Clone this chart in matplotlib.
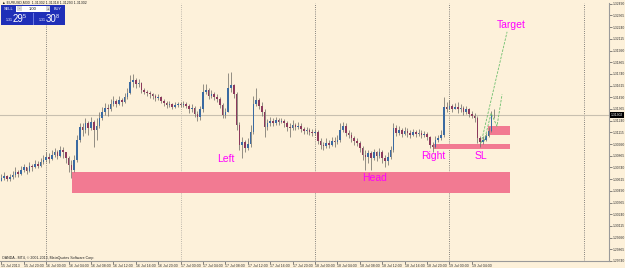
import matplotlib
matplotlib.use("Agg")
import matplotlib.pyplot as plt
from matplotlib.patches import Rectangle

plt.rcParams["font.family"] = ["Liberation Sans", "DejaVu Sans"]

# ── colours ──────────────────────────────────────────────────────────────────
BG = "#FDF1DA"
UP = "#3A6AA2"
DOWN = "#8C3A5C"
WICK = "#76736C"
ZONE = "#F27A92"
MAGENTA = "#FF00FF"
GREEN = "#6DBE6D"
PANEL = "#1F2FB8"

# ── EURUSD M30 bars (bar 0 = 15 Jul 2013 16:00) ──────────────────────────────
first_open = 1.3060
closes = [
    1.3063, 1.3065, 1.3062, 1.3064, 1.3066, 1.3069, 1.3067, 1.3071, 1.3074, 1.3070,
    1.3076, 1.3074, 1.3078, 1.3076, 1.3080, 1.3082, 1.3085, 1.3083, 1.3087, 1.3091,
    1.3086, 1.3093, 1.3090, 1.3084, 1.3077, 1.3071, 1.3082, 1.3103, 1.3117, 1.3114,
    1.3121, 1.3116, 1.3123, 1.3114, 1.3118, 1.3127, 1.3133, 1.3138, 1.3136, 1.3142,
    1.3145, 1.3142, 1.3146, 1.3144, 1.3149, 1.3154, 1.3165, 1.3168, 1.3163, 1.3164,
    1.3157, 1.3155, 1.3154, 1.3152, 1.3150, 1.3148, 1.3149, 1.3145, 1.3143, 1.3141,
    1.3142, 1.3139, 1.3141, 1.3142, 1.3141, 1.3142, 1.3140, 1.3136, 1.3138, 1.3131,
    1.3128, 1.3136, 1.3155, 1.3157, 1.3150, 1.3153, 1.3149, 1.3147, 1.3141, 1.3130,
    1.3133, 1.3159, 1.3162, 1.3152, 1.3119, 1.3098, 1.3101, 1.3095, 1.3099, 1.3112,
    1.3142, 1.3146, 1.3140, 1.3133, 1.3117, 1.3121, 1.3124, 1.3122, 1.3125, 1.3123,
    1.3124, 1.3121, 1.3117, 1.3116, 1.3119, 1.3117, 1.3118, 1.3115, 1.3113, 1.3114,
    1.3112, 1.3111, 1.3112, 1.3102, 1.3098, 1.3097, 1.3100, 1.3098, 1.3102, 1.3101,
    1.3103, 1.3114, 1.3118, 1.3111, 1.3109, 1.3106, 1.3102, 1.3100, 1.3095, 1.3087,
    1.3085, 1.3089, 1.3084, 1.3090, 1.3086, 1.3091, 1.3084, 1.3081, 1.3085, 1.3093,
    1.3116, 1.3111, 1.3114, 1.3110, 1.3113, 1.3111, 1.3109, 1.3112, 1.3110, 1.3111,
    1.3109, 1.3110, 1.3107, 1.3098, 1.3096, 1.3103, 1.3105, 1.3109, 1.3139, 1.3137,
    1.3140, 1.3137, 1.3139, 1.3136, 1.3138, 1.3133, 1.3136, 1.3131, 1.3129, 1.3127,
    1.3106, 1.3101, 1.3103, 1.3108, 1.3113, 1.3130, 1.3130,
]
highs = [
    1.3067, 1.3069, 1.3066, 1.3067, 1.3070, 1.3074, 1.3071, 1.3076, 1.3078, 1.3075,
    1.3080, 1.3078, 1.3082, 1.3081, 1.3084, 1.3087, 1.3090, 1.3089, 1.3093, 1.3095,
    1.3093, 1.3097, 1.3096, 1.3091, 1.3086, 1.3082, 1.3087, 1.3109, 1.3122, 1.3121,
    1.3127, 1.3124, 1.3128, 1.3125, 1.3127, 1.3133, 1.3139, 1.3143, 1.3142, 1.3147,
    1.3150, 1.3147, 1.3150, 1.3148, 1.3154, 1.3159, 1.3173, 1.3174, 1.3170, 1.3169,
    1.3165, 1.3159, 1.3157, 1.3156, 1.3154, 1.3153, 1.3153, 1.3150, 1.3147, 1.3145,
    1.3145, 1.3143, 1.3144, 1.3144, 1.3144, 1.3145, 1.3144, 1.3142, 1.3142, 1.3140,
    1.3134, 1.3140, 1.3163, 1.3163, 1.3159, 1.3157, 1.3155, 1.3153, 1.3149, 1.3143,
    1.3138, 1.3175, 1.3176, 1.3163, 1.3155, 1.3123, 1.3107, 1.3103, 1.3105, 1.3119,
    1.3150, 1.3159, 1.3148, 1.3144, 1.3136, 1.3126, 1.3128, 1.3127, 1.3128, 1.3127,
    1.3127, 1.3126, 1.3124, 1.3121, 1.3125, 1.3122, 1.3123, 1.3121, 1.3117, 1.3117,
    1.3116, 1.3115, 1.3115, 1.3114, 1.3106, 1.3101, 1.3105, 1.3103, 1.3107, 1.3107,
    1.3109, 1.3121, 1.3123, 1.3121, 1.3114, 1.3112, 1.3108, 1.3106, 1.3102, 1.3097,
    1.3093, 1.3093, 1.3092, 1.3094, 1.3092, 1.3095, 1.3093, 1.3087, 1.3091, 1.3097,
    1.3121, 1.3119, 1.3118, 1.3116, 1.3117, 1.3116, 1.3114, 1.3115, 1.3114, 1.3115,
    1.3114, 1.3113, 1.3112, 1.3108, 1.3101, 1.3108, 1.3109, 1.3114, 1.3149, 1.3144,
    1.3146, 1.3142, 1.3143, 1.3144, 1.3142, 1.3140, 1.3140, 1.3138, 1.3134, 1.3132,
    1.3129, 1.3108, 1.3108, 1.3111, 1.3117, 1.3134, 1.3136,
]
lows = [
    1.3060, 1.3061, 1.3059, 1.3060, 1.3062, 1.3064, 1.3064, 1.3066, 1.3069, 1.3067,
    1.3069, 1.3070, 1.3073, 1.3073, 1.3075, 1.3078, 1.3080, 1.3079, 1.3082, 1.3085,
    1.3083, 1.3085, 1.3084, 1.3079, 1.3069, 1.3063, 1.3069, 1.3080, 1.3101, 1.3108,
    1.3111, 1.3109, 1.3114, 1.3096, 1.3103, 1.3116, 1.3125, 1.3130, 1.3129, 1.3134,
    1.3140, 1.3139, 1.3141, 1.3140, 1.3143, 1.3147, 1.3152, 1.3160, 1.3159, 1.3160,
    1.3154, 1.3152, 1.3150, 1.3148, 1.3147, 1.3145, 1.3146, 1.3143, 1.3140, 1.3138,
    1.3139, 1.3137, 1.3138, 1.3139, 1.3139, 1.3139, 1.3138, 1.3132, 1.3133, 1.3128,
    1.3124, 1.3125, 1.3133, 1.3152, 1.3147, 1.3148, 1.3146, 1.3144, 1.3138, 1.3127,
    1.3127, 1.3133, 1.3155, 1.3148, 1.3114, 1.3093, 1.3084, 1.3090, 1.3093, 1.3096,
    1.3110, 1.3140, 1.3137, 1.3129, 1.3107, 1.3114, 1.3118, 1.3118, 1.3119, 1.3119,
    1.3121, 1.3117, 1.3113, 1.3107, 1.3114, 1.3114, 1.3115, 1.3112, 1.3110, 1.3110,
    1.3109, 1.3108, 1.3109, 1.3099, 1.3094, 1.3093, 1.3095, 1.3095, 1.3097, 1.3096,
    1.3099, 1.3101, 1.3112, 1.3108, 1.3106, 1.3101, 1.3098, 1.3097, 1.3091, 1.3082,
    1.3071, 1.3079, 1.3071, 1.3082, 1.3081, 1.3084, 1.3079, 1.3074, 1.3077, 1.3083,
    1.3091, 1.3108, 1.3109, 1.3107, 1.3109, 1.3107, 1.3106, 1.3108, 1.3107, 1.3108,
    1.3106, 1.3107, 1.3103, 1.3095, 1.3091, 1.3095, 1.3101, 1.3103, 1.3107, 1.3133,
    1.3136, 1.3133, 1.3136, 1.3132, 1.3133, 1.3130, 1.3131, 1.3128, 1.3127, 1.3123,
    1.3100, 1.3096, 1.3099, 1.3102, 1.3107, 1.3112, 1.3127,
]
current_price = 1.31302

# ── drawn objects ────────────────────────────────────────────────────────────
# zones: (bar start, bar end, price bottom, price top)
zones = [
    (25.2, 181.6, 1.3047, 1.3069),   # neckline / head zone
    (154.1, 181.6, 1.3094, 1.3099),  # SL zone
    (173.8, 181.6, 1.3109, 1.3118),  # entry zone
]
target_line_x = [171.3, 180.6]
target_line_y = [1.3100, 1.3219]
path_line_x = [172.4, 174.9, 177.0, 178.8]
path_line_y = [1.3102, 1.3132, 1.3118, 1.3152]
labels = [("Target", 182.2, 1.3226), ("Left", 80.2, 1.3083),
          ("Head", 133.4, 1.3063), ("Right", 154.1, 1.3086),
          ("SL", 171.1, 1.3086)]

price_ticks = [1.32490 - 0.00125 * k for k in range(23)]
time_ticks = list(range(0, 169, 8))
time_labels = [
    "15 Jul 2013", "15 Jul 20:00", "16 Jul 00:00", "16 Jul 04:00", "16 Jul 08:00",
    "16 Jul 12:00", "16 Jul 16:00", "16 Jul 20:00", "17 Jul 00:00", "17 Jul 04:00",
    "17 Jul 08:00", "17 Jul 12:00", "17 Jul 16:00", "17 Jul 20:00", "18 Jul 00:00",
    "18 Jul 04:00", "18 Jul 08:00", "18 Jul 12:00", "18 Jul 16:00", "18 Jul 20:00",
    "19 Jul 00:00", "19 Jul 04:00",
]
day_breaks = [16, 64, 112, 160, 208]

W, H = 625, 268


def fx(x):
    return x / W


def fy(y):
    return 1 - y / H


fig = plt.figure(figsize=(W / 100, H / 100), dpi=100, facecolor=BG)
ax = fig.add_axes([0, fy(261), fx(609), (261 - 3) / H])
ax.set_facecolor(BG)
ax.set_xlim(-0.5, 217.0)
ax.set_ylim(1.29743, 1.32498)

# separators + current price line
for k, b in enumerate(day_breaks):
    ax.axvline(b, color="#A8A49C" if k == 1 else "#5E5E5E", lw=0.6,
               ls=(0, (1, 1.6)), zorder=1)
ax.axhline(current_price, color="#C8C0B0", lw=0.8, zorder=1)

# zones
for x0, x1, y0, y1 in zones:
    ax.add_patch(Rectangle((x0, y0), x1 - x0, y1 - y0, facecolor=ZONE,
                           edgecolor="none", zorder=2))

# candles
opens = [first_open] + closes[:-1]
for i, (o, c, h, l) in enumerate(zip(opens, closes, highs, lows)):
    h = max(h, o, c)
    l = min(l, o, c)
    ax.vlines(i, l, h, color=WICK, lw=0.55, zorder=3)
    body = abs(c - o) if abs(c - o) > 0.00002 else 0.00002
    ax.bar(i, body, bottom=min(o, c), width=0.62,
           color=UP if c >= o else DOWN, zorder=4, linewidth=0)

# trade lines
ax.plot(target_line_x, target_line_y, color=GREEN, lw=0.6, ls=(0, (3, 1.5)), zorder=5)
ax.plot(path_line_x, path_line_y, color=GREEN, lw=0.6, ls=(0, (3, 1.5)), zorder=5)

for txt, bx, by in labels:
    ax.text(bx, by, txt, color=MAGENTA, fontsize=7.5, ha="center", va="center",
            zorder=6)

# axes
for s in ("top", "left"):
    ax.spines[s].set_visible(False)
for s in ("right", "bottom"):
    ax.spines[s].set_color("#9A9A9A")
    ax.spines[s].set_linewidth(0.8)

ax.yaxis.tick_right()
ax.set_yticks(price_ticks)
ax.set_yticklabels([f"{v:.5f}" for v in price_ticks])
ax.tick_params(axis="y", length=2, width=0.5, color="#555555", pad=1,
               labelsize=2.4, labelcolor="#333333")
ax.set_xticks(time_ticks)
ax.set_xticklabels(time_labels)
ax.tick_params(axis="x", length=2, width=0.5, color="#555555", pad=0.5,
               labelsize=2.6, labelcolor="#333333")
for lbl in ax.get_xticklabels():
    lbl.set_ha("left")

# current price tag on the price scale
ax.text(1.003, current_price, f"{current_price:.5f}", transform=ax.get_yaxis_transform(),
        fontsize=2.4, color="white", va="center", ha="left",
        bbox=dict(boxstyle="square,pad=0.25", facecolor="black", edgecolor="none"))

# window caption and one-click panel
fig.text(fx(2), fy(3), "\u25b2 EURUSD,M30  1.31302 1.31318 1.31293 1.31302",
         fontsize=2.6, color="#222222", va="center")


def box(x0, y0, x1, y1, color, ec="none"):
    fig.add_artist(Rectangle((fx(x0), fy(y1)), fx(x1) - fx(x0), fy(y0) - fy(y1),
                             transform=fig.transFigure, facecolor=color,
                             edgecolor=ec, linewidth=0.4))


box(1, 5, 65, 24.5, PANEL)
box(16, 5.5, 50, 12, "white")
box(17, 6.2, 21.5, 11.3, "#D6D6D6")
box(45.5, 6.2, 49.5, 11.3, "#D6D6D6")
box(33, 12.8, 33.6, 24.5, "#6A78E0")
fig.text(fx(8.5), fy(9), "SELL", fontsize=2.8, color="white", ha="center", va="center")
fig.text(fx(58), fy(9), "BUY", fontsize=2.8, color="white", ha="center", va="center")
fig.text(fx(19.2), fy(8.8), "-", fontsize=3, color="#333333", ha="center", va="center")
fig.text(fx(47.5), fy(8.8), "+", fontsize=3, color="#333333", ha="center", va="center")
fig.text(fx(33), fy(9), "1.00", fontsize=3, color="#111111", ha="center", va="center")
for x0, big, sup in ((3, "29", "5"), (36, "30", "8")):
    fig.text(fx(x0 + 3), fy(20), "1.31", fontsize=2.6, color="white", va="center")
    fig.text(fx(x0 + 10), fy(19), big, fontsize=7, color="white", va="center")
    fig.text(fx(x0 + 20), fy(16), sup, fontsize=4, color="white", va="center")

fig.text(fx(2), fy(257.5), "OANDA - MT4, \u00a9 2001-2013, MetaQuotes Software Corp.",
         fontsize=2.6, color="#222222", va="center")

fig.savefig("out.png", dpi=100, facecolor=BG)
